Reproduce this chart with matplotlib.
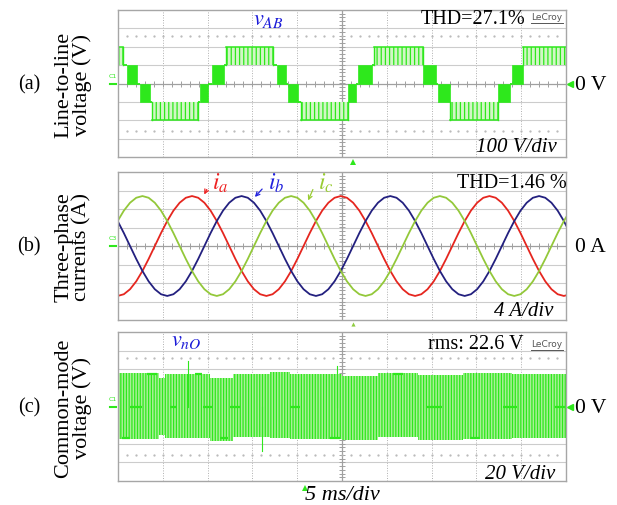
import numpy as np
import matplotlib
matplotlib.use('Agg')
import matplotlib.pyplot as plt

plt.rcParams['font.family'] = ['Liberation Serif', 'DejaVu Serif']
plt.rcParams['mathtext.fontset'] = 'stix'
plt.rcParams['hatch.linewidth'] = 0.9

# ---------------- data ----------------
# (a) line-to-line voltage v_AB : segments (start ms, end ms, low V, high V, kind)
# kind: 'f' flat level, 'd' dense PWM block, 's' sparse PWM block
vab_t0 = [0.00, 0.61, 0.95, 2.12, 2.40, 3.52, 3.85, 8.93, 9.15, 10.10, 10.49, 11.83,
          12.05, 17.30, 17.69, 18.75, 18.97, 20.09, 20.37, 25.67, 26.56, 26.79, 28.35,
          28.57, 34.04, 35.49, 35.66, 37.06, 42.41, 43.78, 43.95, 45.20]
vab_t1 = [0.61, 0.95, 2.12, 2.40, 3.52, 3.85, 8.93, 9.15, 10.10, 10.49, 11.83, 12.05,
          17.30, 17.69, 18.75, 18.97, 20.09, 20.37, 25.67, 26.56, 26.79, 28.35, 28.57,
          34.04, 35.49, 35.66, 37.06, 42.41, 43.78, 43.95, 45.20, 50.00]
vab_lo = [100, 100, 0, 0, -100, -100, -200, -100, -100, 0, 0, 100,
          100, 100, 0, 0, -100, -100, -200, -100, 0, 0, 100,
          100, 0, 0, -100, -200, -100, 0, 0, 100]
vab_hi = [200, 100, 100, 0, 0, -100, -100, -100, 0, 0, 100, 100,
          200, 100, 100, 0, 0, -100, -100, 0, 0, 100, 100,
          200, 100, 0, 0, -100, 0, 0, 100, 200]
vab_kind = ['s', 'f', 'd', 'f', 'd', 'f', 's', 'f', 'd', 'f', 'd', 'f',
            's', 'f', 'd', 'f', 'd', 'f', 's', 'd', 'f', 'd', 'f',
            's', 'd', 'f', 'd', 's', 'd', 'f', 'd', 's']

# (b) three-phase currents (A), sampled every 0.6917 ms starting at -0.04 ms
cur_t = np.round(-0.04 + 0.6917 * np.arange(74), 3)
i_a = [-10.8, -10.43, -9.35, -7.64, -5.4, -2.8, 0, 2.8, 5.4, 7.64, 9.35, 10.43,
       10.8, 10.43, 9.35, 7.64, 5.4, 2.8, 0, -2.8, -5.4, -7.64, -9.35, -10.43,
       -10.8, -10.43, -9.35, -7.64, -5.4, -2.8, 0, 2.8, 5.4, 7.64, 9.35, 10.43,
       10.8, 10.43, 9.35, 7.64, 5.4, 2.8, 0, -2.8, -5.4, -7.64, -9.35, -10.43,
       -10.8, -10.43, -9.35, -7.64, -5.4, -2.8, 0, 2.8, 5.4, 7.64, 9.35, 10.43,
       10.8, 10.43, 9.35, 7.64, 5.4, 2.8, 0, -2.8, -5.4, -7.64, -9.35, -10.43,
       -10.8, -10.43]
i_b = [5.4, 2.8, 0, -2.8, -5.4, -7.64, -9.35, -10.43, -10.8, -10.43, -9.35, -7.64,
       -5.4, -2.8, 0, 2.8, 5.4, 7.64, 9.35, 10.43, 10.8, 10.43, 9.35, 7.64,
       5.4, 2.8, 0, -2.8, -5.4, -7.64, -9.35, -10.43, -10.8, -10.43, -9.35, -7.64,
       -5.4, -2.8, 0, 2.8, 5.4, 7.64, 9.35, 10.43, 10.8, 10.43, 9.35, 7.64,
       5.4, 2.8, 0, -2.8, -5.4, -7.64, -9.35, -10.43, -10.8, -10.43, -9.35, -7.64,
       -5.4, -2.8, 0, 2.8, 5.4, 7.64, 9.35, 10.43, 10.8, 10.43, 9.35, 7.64,
       5.4, 2.8]
i_c = [5.4, 7.64, 9.35, 10.43, 10.8, 10.43, 9.35, 7.64, 5.4, 2.8, 0, -2.8,
       -5.4, -7.64, -9.35, -10.43, -10.8, -10.43, -9.35, -7.64, -5.4, -2.8, 0, 2.8,
       5.4, 7.64, 9.35, 10.43, 10.8, 10.43, 9.35, 7.64, 5.4, 2.8, 0, -2.8,
       -5.4, -7.64, -9.35, -10.43, -10.8, -10.43, -9.35, -7.64, -5.4, -2.8, 0, 2.8,
       5.4, 7.64, 9.35, 10.43, 10.8, 10.43, 9.35, 7.64, 5.4, 2.8, 0, -2.8,
       -5.4, -7.64, -9.35, -10.43, -10.8, -10.43, -9.35, -7.64, -5.4, -2.8, 0, 2.8,
       5.4, 7.64]

# (c) common-mode voltage v_nO : PWM band segments (ms, V)
cm_t0 = [0.0, 4.6, 5.2, 10.3, 12.8, 17.0, 19.2, 25.0, 29.0, 33.5, 38.5, 44.0]
cm_t1 = [4.6, 5.2, 10.3, 12.8, 17.0, 19.2, 25.0, 29.0, 33.5, 38.5, 44.0, 50.0]
cm_top = [36, 31, 35, 31, 35, 37, 35, 33, 36, 34, 36, 35]
cm_bot = [-35, -31, -34, -37, -33, -34, -35, -36, -33, -36, -35, -34]
# dwell levels (start ms, end ms, level V)
cm_flat_t0 = [3.24, 8.6, 30.7, 0.45, 11.4, 23.7, 39.3, 1.34, 5.8, 9.5, 12.5, 19.2, 34.5, 43.0, 48.8]
cm_flat_t1 = [4.35, 9.4, 31.8, 1.34, 12.3, 24.8, 40.4, 2.68, 6.6, 10.6, 13.6, 20.3, 36.2, 44.5, 49.9]
cm_flat_v = [35, 35, 35, -34, -34, -34, -34, 0, 0, 0, 0, 0, 0, 0, 0]
# spikes (ms, V)
cm_spike_t = [7.8, 16.1, 24.4]
cm_spike_v = [49, -48, 44]

# ---------------- style ----------------
W, H = 617, 506
G = '#2ee81c'
LG = '#d2f6c6'
GRIDC = '#cccccc'
FRAME = '#a6a6a6'

fig = plt.figure(figsize=(W / 100, H / 100), dpi=100)
fig.patch.set_facecolor('white')


def ax_at(x0, y0, x1, y1):
    return fig.add_axes([x0 / W, 1 - y1 / H, (x1 - x0) / W, (y1 - y0) / H])


def ftext(x, y, s, **kw):
    kw.setdefault('ha', 'center')
    kw.setdefault('va', 'center')
    return fig.text(x / W, 1 - y / H, s, **kw)


def scope_grid(ax, vdiv, dots=True):
    ax.set_xlim(0, 50)
    ax.set_ylim(-4 * vdiv, 4 * vdiv)
    ax.set_xticks([])
    ax.set_yticks([])
    for s in ax.spines.values():
        s.set_color(FRAME)
        s.set_linewidth(1.0)
    for k in range(1, 10):
        if k != 5:
            ax.axvline(5 * k, color='#b0b0b0', lw=0.7, ls=(0, (1, 1.6)), zorder=0)
    for k in (-3, -2, -1, 1, 2, 3):
        ax.axhline(k * vdiv, color=GRIDC, lw=0.8, zorder=0)
    ax.axvline(25, color='#a0a0a0', lw=0.9, zorder=0)
    ax.axhline(0, color='#a0a0a0', lw=0.9, zorder=0)
    xt = np.arange(1, 50, 1.0)
    ax.plot(xt, np.zeros_like(xt), ls='none', marker='|', ms=4, mew=0.7,
            color='#a0a0a0', zorder=0)
    yt = np.arange(-3.8, 4, 0.2) * vdiv
    ax.plot(np.full_like(yt, 25), yt, ls='none', marker='_', ms=4, mew=0.7,
            color='#a0a0a0', zorder=0)
    if dots:
        for yy in (-2.6, 2.6):
            ax.plot(xt, np.full_like(xt, yy * vdiv), ls='none', marker='.', ms=1.2,
                    color='#b5b5b5', zorder=0)


# ---------------- panel (a) ----------------
axa = ax_at(118, 11, 566, 158)
scope_grid(axa, 100)
for t0, t1, lo, hi, kd in zip(vab_t0, vab_t1, vab_lo, vab_hi, vab_kind):
    if kd == 'f':
        axa.plot([t0, t1], [lo, lo], color=G, lw=1.3, solid_capstyle='butt')
    elif kd == 'd':
        axa.fill_between([t0, t1], lo, hi, facecolor=G, edgecolor=G, lw=0.5)
    else:
        axa.fill_between([t0, t1], lo, hi, facecolor=LG, edgecolor=G,
                         hatch='||||', lw=0)
        outer = hi if abs(hi) > abs(lo) else lo
        axa.plot([t0, t1], [outer, outer], color=G, lw=1.1)
        axa.plot([t0, t0], [lo, hi], color=G, lw=1.0)
        axa.plot([t1, t1], [lo, hi], color=G, lw=1.0)
axa.plot([50.5], [0], marker='<', ms=5, color=G, clip_on=False)
axa.plot([26.2], [-425], marker='^', ms=4, color=G, clip_on=False, mew=0)

# ---------------- panel (b) ----------------
axb = ax_at(118, 173, 566, 321)
scope_grid(axb, 4, dots=False)
axb.plot(cur_t, i_a, color='#e5261f', lw=1.3)
axb.plot(cur_t, i_b, color='#23207f', lw=1.3)
axb.plot(cur_t, i_c, color='#93c83a', lw=1.3)
axb.plot([26.2], [-16.9], marker='^', ms=3, color='#8fcc40', clip_on=False, mew=0)

# ---------------- panel (c) ----------------
axc = ax_at(118, 333, 566, 482)
scope_grid(axc, 20)
for t0, t1, tp, bt in zip(cm_t0, cm_t1, cm_top, cm_bot):
    axc.fill_between([t0, t1], bt, tp, facecolor='#a8f097', edgecolor=G,
                     hatch='||||||', lw=0)
for t0, t1, v in zip(cm_flat_t0, cm_flat_t1, cm_flat_v):
    axc.plot([t0, t1], [v, v], color=G, lw=1.6, solid_capstyle='butt')
for t, v in zip(cm_spike_t, cm_spike_v):
    axc.plot([t, t], [0, v], color=G, lw=0.8)
axc.plot([50.5], [0], marker='<', ms=5, color=G, clip_on=False)
axc.plot([20.9], [-88], marker='^', ms=4, color=G, clip_on=False, mew=0)

# ---------------- texts ----------------
ftext(29, 85, '(a)', fontsize=14.5)
ftext(29, 247, '(b)', fontsize=14.5)
ftext(29, 408, '(c)', fontsize=14.5)
YL = 16
ftext(73, 85, 'Line-to-line\nvoltage (V)', fontsize=YL, rotation=90, linespacing=0.95)
ftext(73, 247, 'Three-phase\ncurrents (A)', fontsize=YL, rotation=90, linespacing=0.95)
ftext(73, 408, 'Common-mode\nvoltage (V)', fontsize=YL, rotation=90, linespacing=0.95)

ftext(575, 86, '0 V', fontsize=15.5, ha='left')
ftext(575, 248, '0 A', fontsize=15.5, ha='left')
ftext(575, 409, '0 V', fontsize=15.5, ha='left')

ftext(525, 20, 'THD=27.1%', fontsize=14.5, ha='right')
ftext(567, 184, 'THD=1.46 %', fontsize=14.5, ha='right')
ftext(523, 345, 'rms: 22.6 V', fontsize=14.5, ha='right')

for yy in (18, 345):
    ftext(547, yy, 'LeCroy', fontsize=6.5, color='#555555', family='DejaVu Sans')
    fig.add_artist(plt.Line2D([531 / W, 563 / W], [1 - (yy + 6) / H] * 2,
                              color='#555555', lw=0.7))

ftext(557, 147, '100 V/div', fontsize=15, ha='right', style='italic')
ftext(553, 312, '4 A/div', fontsize=15, ha='right', style='italic')
ftext(555, 475, '20 V/div', fontsize=15, ha='right', style='italic')
ftext(305, 496, '5 ms/div', fontsize=16, ha='left', style='italic')

ftext(268, 20, r'$v_{AB}$', fontsize=16, color='#1a1ad8')
ftext(186, 342, r'$v_{nO}$', fontsize=16, color='#1a1ad8')

for lab, col, tx, ty, ax_, ay in [
        (r'$i_a$', '#ee2222', 220, 183, 203, 198),
        (r'$i_b$', '#2222dd', 276, 183, 253, 200),
        (r'$i_c$', '#99cc33', 326, 183, 307, 204)]:
    fig.text(tx / W, 1 - ty / H, lab, fontsize=17, color=col, ha='center', va='center')
    fig.add_artist(matplotlib.patches.FancyArrowPatch(
        ((tx - 12) / W, 1 - (ty + 5) / H), (ax_ / W, 1 - ay / H),
        transform=fig.transFigure, arrowstyle='->', mutation_scale=7,
        color=col, lw=0.9))

# channel markers
for yy, lab in ((85, 'C1'), (247, 'C3'), (408, 'C1')):
    ftext(113, yy - 8, lab, fontsize=4.5, color=G, family='DejaVu Sans')
    fig.add_artist(plt.Line2D([110 / W, 116 / W], [1 - yy / H] * 2, color=G, lw=1.5))

fig.savefig('out.png', dpi=100)
